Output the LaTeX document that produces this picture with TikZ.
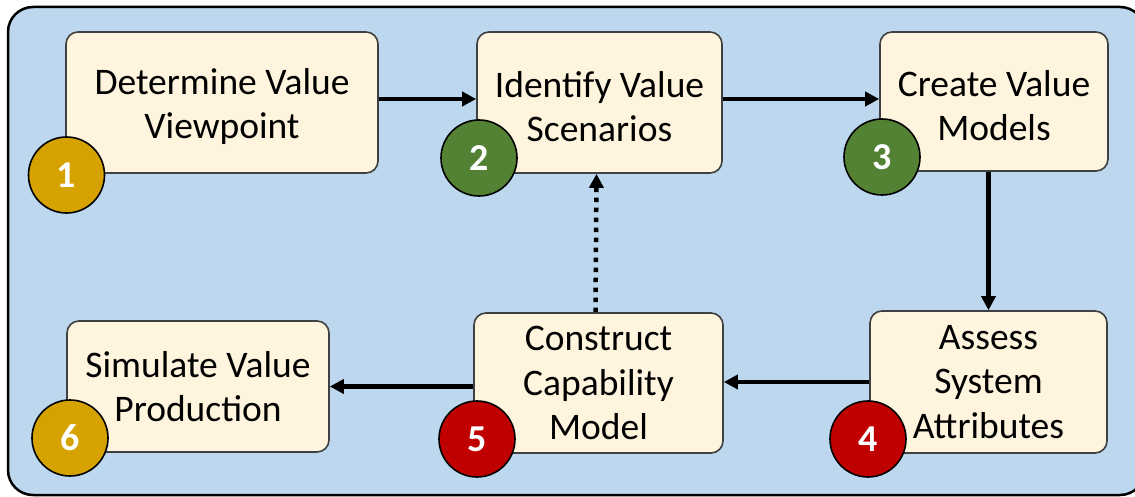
\documentclass[tikz,border=0pt]{standalone}
\usepackage{fontspec}
\setmainfont{Carlito}
\usetikzlibrary{arrows.meta}
\definecolor{bluebg}{RGB}{189,215,238}
\definecolor{boxfill}{RGB}{255,245,222}
\definecolor{boxline}{RGB}{64,64,64}
\definecolor{goldc}{RGB}{214,162,0}
\definecolor{greenc}{RGB}{84,130,53}
\definecolor{redc}{RGB}{192,0,0}
\newcommand{\topstrut}{\rule{0pt}{34pt}}
\tikzset{
  stepbox/.style={draw=boxline, line width=1.6pt, fill=boxfill, rounded corners=12pt,
    align=center, inner sep=0pt, font=\fontsize{37.5}{44.5}\selectfont},
  numc/.style={circle, draw=black, line width=1.6pt, minimum size=76pt, inner sep=0pt,
    text=white, font=\fontsize{38}{38}\selectfont\bfseries},
  arr/.style={line width=4.2pt, -{Triangle[length=14pt,width=14pt]}},
  dotarr/.style={line width=4.5pt, dash pattern=on 4.5pt off 5.5pt, -{Triangle[length=14pt,width=14pt]}}
}
\begin{document}
\begin{tikzpicture}[x=1pt,y=-1pt]
\clip (0,0) rectangle (1135,497);
\draw[fill=bluebg, line width=2.5pt, rounded corners=25pt] (8,7) rectangle (1145,495);
\node[stepbox, minimum width=312pt, minimum height=141pt] (b1) at (222,102.5) {\topstrut Determine Value\\Viewpoint};
\node[stepbox, minimum width=245pt, minimum height=141pt] (b2) at (599.5,102.5) {\topstrut Identify Value\\Scenarios};
\node[stepbox, minimum width=228pt, minimum height=139pt] (b3) at (994,101.5) {\topstrut Create Value\\Models};
\node[stepbox, minimum width=237pt, minimum height=142pt] (b4) at (988.5,382) {Assess\\System\\Attributes};
\node[stepbox, minimum width=249pt, minimum height=140pt] (b5) at (598.5,383) {Construct\\Capability\\Model};
\node[stepbox, minimum width=262pt, minimum height=131pt] (b6) at (198,386.5) {Simulate Value\\Production};
\draw[arr] ([yshift=3.5pt]b1.east) -- ([yshift=3.5pt]b2.west);
\draw[arr] ([yshift=3.5pt]b2.east) -- ([yshift=2.5pt]b3.west);
\draw[arr] (b3.south -| b4.north) -- (b4.north);
\draw[arr] (b4.west) -- (b4.west -| b5.east);
\draw[arr] (b5.west |- b6.east) -- (b6.east);
\draw[dotarr] ([xshift=-3pt]b5.north) -- ([xshift=-3pt]b2.south);
\node[numc, fill=goldc] (n1) at (66.5,175) {1};
\node[numc, fill=greenc] (n2) at (479,158) {2};
\node[numc, fill=greenc] (n3) at (882,157) {3};
\node[numc, fill=redc] (n4) at (868,439) {4};
\node[numc, fill=redc] (n5) at (477,439) {5};
\node[numc, fill=goldc] (n6) at (70,438) {6};
\end{tikzpicture}
\end{document}
